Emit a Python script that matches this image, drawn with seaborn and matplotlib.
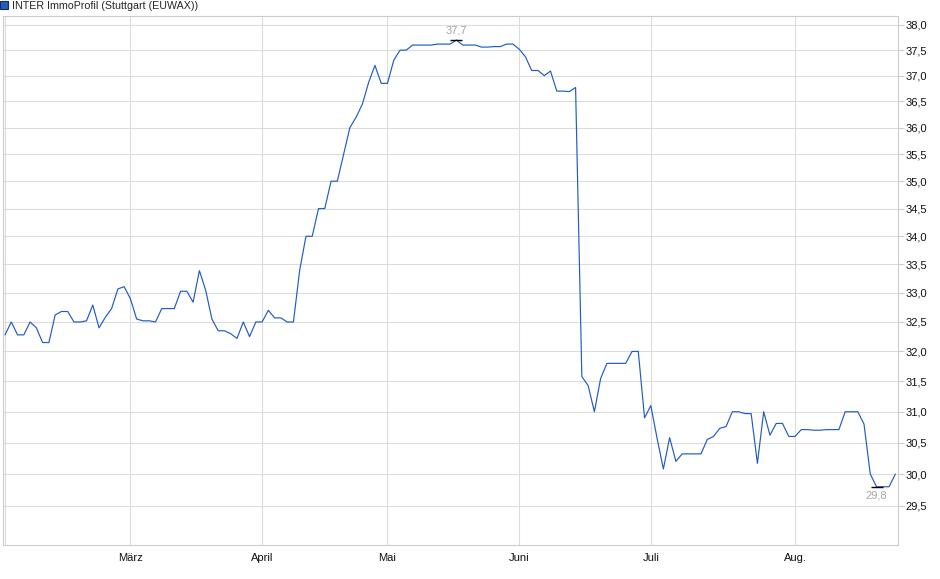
import numpy as np
import pandas as pd
import matplotlib
matplotlib.use("Agg")
import matplotlib.pyplot as plt
import seaborn as sns
from matplotlib.ticker import FixedLocator, FuncFormatter, NullLocator
from matplotlib.patches import Patch


# -------------------------------------------------------
# Data (one value per trading day)
# -------------------------------------------------------
title = "INTER ImmoProfil (Stuttgart (EUWAX))"

prices = [
    # Feb / Mar
    32.28, 32.50, 32.28, 32.28, 32.50, 32.40, 32.15, 32.15, 32.62, 32.68,
    32.68, 32.50, 32.50, 32.52, 32.79, 32.40, 32.58, 32.73, 33.07, 33.11,
    32.90, 32.55, 32.52, 32.52, 32.50, 32.73, 32.73, 32.73, 33.03, 33.03,
    32.84, 33.39, 33.05, 32.55, 32.35, 32.35, 32.30, 32.22, 32.50, 32.25,
    32.50, 32.50, 32.70, 32.57, 32.57, 32.50, 32.50,
    # April rally
    33.40, 34.00, 34.00, 34.50, 34.50, 35.00, 35.00, 35.50, 36.00, 36.20,
    36.45, 36.87, 37.20, 36.85, 36.85, 37.30, 37.50, 37.50, 37.60,
    # plateau May / June
    37.60, 37.60, 37.60, 37.62, 37.62, 37.62, 37.70, 37.60, 37.60, 37.60,
    37.56, 37.56, 37.57, 37.57, 37.62, 37.62, 37.52, 37.37, 37.10, 37.10,
    37.00, 37.09, 36.70, 36.70, 36.69, 36.77,
    # drop and after
    31.58, 31.43, 31.00, 31.55, 31.80, 31.80, 31.80, 31.80, 32.00, 32.00,
    30.90, 31.10, 30.57, 30.08, 30.58, 30.20, 30.32, 30.32, 30.32, 30.32,
    30.55, 30.60, 30.73, 30.76, 31.00, 31.00, 30.97, 30.97, 30.17, 31.00,
    30.62, 30.81, 30.81, 30.60, 30.60, 30.71, 30.71, 30.70, 30.70, 30.71,
    30.71, 30.71, 31.00, 31.00, 31.00, 30.80, 30.00, 29.80, 29.80, 29.80,
    30.00,
]

# first trading day of each month (position in the series)
month_start_idx = [0, 20, 41, 61, 82, 103, 126]
month_labels = ["", "März", "April", "Mai", "Juni", "Juli", "Aug."]

y_ticks = [29.5, 30.0, 30.5, 31.0, 31.5, 32.0, 32.5, 33.0, 33.5,
           34.0, 34.5, 35.0, 35.5, 36.0, 36.5, 37.0, 37.5, 38.0]

df = pd.DataFrame({"day": np.arange(len(prices)), "price": prices})

line_color = "#1f5cc4"
grid_color = "#dcdcdc"
label_gray = "#a6a6a6"


def de_fmt(v, pos=None):
    return f"{v:.1f}".replace(".", ",")


# -------------------------------------------------------
# Plot
# -------------------------------------------------------
sns.set_style("white")
plt.rcParams['font.family'] = ['Liberation Sans', 'DejaVu Sans']

fig = plt.figure(figsize=(9.4, 5.79), dpi=100)
ax = fig.add_axes([3 / 940, 1 - 545 / 579, (898.3 - 3) / 940, (545 - 16) / 579])

sns.lineplot(data=df, x="day", y="price", ax=ax, color=line_color, linewidth=0.85)

ax.set_yscale("log")
ax.set_ylim(28.90, 38.18)
ax.set_xlim(-0.32, len(prices) - 0.53)

ax.yaxis.set_major_locator(FixedLocator(y_ticks))
ax.yaxis.set_major_formatter(FuncFormatter(de_fmt))
ax.yaxis.set_minor_locator(NullLocator())
ax.yaxis.tick_right()

ax.set_xticks(month_start_idx)
ax.set_xticklabels(month_labels)
ax.xaxis.set_minor_locator(NullLocator())

ax.set_xlabel("")
ax.set_ylabel("")

ax.grid(True, color=grid_color, linewidth=0.8)
ax.set_axisbelow(True)
for side in ["left", "right", "top", "bottom"]:
    ax.spines[side].set_color("#cccccc")
    ax.spines[side].set_linewidth(0.8)

ax.tick_params(axis="y", which="major", length=4, width=0.8, color="#cccccc",
               labelsize=8, pad=1, labelcolor="#111111")
ax.tick_params(axis="x", which="major", length=3, width=0.8, color="#cccccc",
               labelsize=8, pad=3, labelcolor="#111111")

# max / min markers
imax = int(np.argmax(prices))
imin = int(np.argmin(prices))
for i, dy, va in [(imax, 3, "bottom"), (imin, -3, "top")]:
    ax.plot(i, prices[i], marker="_", markersize=9, markeredgewidth=1, color="black")
    ax.annotate(de_fmt(prices[i]), (i, prices[i]), xytext=(0, dy),
                textcoords="offset points", ha="center", va=va,
                color=label_gray, fontsize=8)

# legend square + series name
fig.legend(handles=[Patch(facecolor=line_color, edgecolor="#1b2b4f", linewidth=0.8)],
           labels=[title], loc="upper left", bbox_to_anchor=(-0.003, 1.004),
           frameon=False, fontsize=7.7, handlelength=0.7, handleheight=0.7,
           handletextpad=0.35, borderaxespad=0.1, borderpad=0.2)

fig.savefig("out.png", dpi=100)
